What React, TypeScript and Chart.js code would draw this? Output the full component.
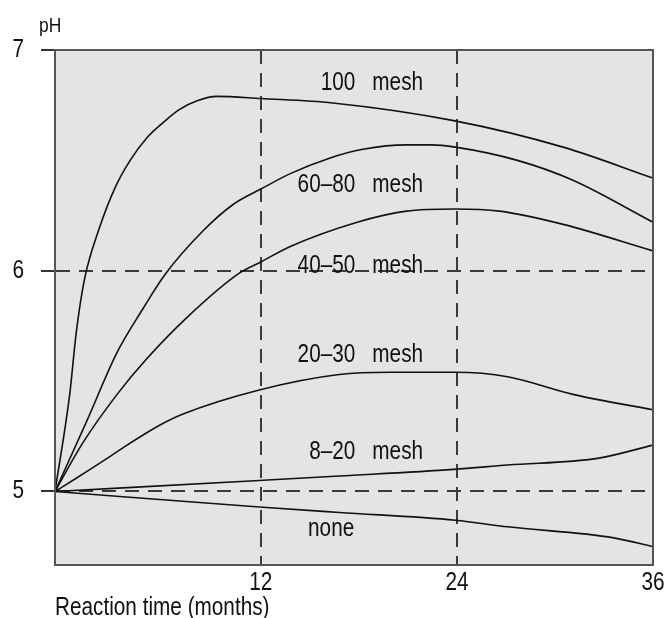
import React, { useEffect, useRef } from "react";
import { Chart, registerables } from "chart.js";

Chart.register(...registerables);

// Reaction time (months) and pH
const months100 = [-0.6, 0.3, 0.7, 1.2, 2.1, 3.1, 4.0, 5.0, 6.0, 7.0, 8.1, 9.3, 12, 16.4, 23.8, 30.5, 36];
const ph100 = [5.0, 5.44, 5.72, 5.96, 6.19, 6.38, 6.5, 6.6, 6.67, 6.73, 6.77, 6.79, 6.78, 6.76, 6.68, 6.56, 6.42];

const months60_80 = [-0.6, 1.35, 3.2, 4.8, 6.1, 8.45, 10.3, 12, 13.8, 16.2, 18.25, 20.9, 22.4, 23.9, 27.7, 31.1, 36];
const ph60_80 = [5.0, 5.32, 5.63, 5.83, 5.98, 6.18, 6.3, 6.37, 6.44, 6.51, 6.55, 6.57, 6.57, 6.56, 6.5, 6.41, 6.22];

const months40_50 = [-0.6, 1.1, 3.2, 5.0, 7.5, 10.7, 12, 13.8, 17.9, 20.9, 23.9, 26.6, 30.5, 36];
const ph40_50 = [5.0, 5.22, 5.44, 5.6, 5.79, 5.99, 6.04, 6.11, 6.22, 6.27, 6.28, 6.27, 6.21, 6.09];

const months20_30 = [-0.6, 0.7, 2.8, 3.6, 5.8, 7.2, 11.9, 16.8, 19.9, 23.9, 27.1, 31.1, 36];
const ph20_30 = [5.0, 5.06, 5.16, 5.2, 5.3, 5.35, 5.46, 5.53, 5.54, 5.54, 5.52, 5.44, 5.37];

const months8_20 = [-0.6, 11.9, 16.8, 23.8, 27.1, 32.6, 36];
const ph8_20 = [5.0, 5.05, 5.07, 5.1, 5.12, 5.15, 5.21];

const monthsNone = [-0.6, 11.9, 16.8, 23.9, 27.1, 33.6, 36];
const phNone = [5.0, 4.93, 4.905, 4.87, 4.84, 4.79, 4.75];

const seriesMonths = [months100, months60_80, months40_50, months20_30, months8_20, monthsNone];
const seriesValues = [ph100, ph60_80, ph40_50, ph20_30, ph8_20, phNone];

const xTicks = [12, 24, 36];
const yTicks = [5, 6, 7];

// Curve labels
const meshLabels = ["100", "60\u201380", "40\u201350", "20\u201330", "8\u201320"];
const meshLabelPH = [6.85, 6.39, 6.02, 5.62, 5.18];
const meshLabelMonth = 18.3;
const noneLabel = "none";
const noneLabelPH = 4.83;
const noneLabelMonth = 16.3;

const xTitle = "Reaction time (months)";
const yTitle = "pH";

const FONT = '"Liberation Sans", Arial, sans-serif';
const NARROW = 0.83;
const TEXT = "#111";
const GRID = "#3a3a3a";

function narrowText(ctx: CanvasRenderingContext2D, text: string, x: number, y: number, align: CanvasTextAlign, size: number, baseline: CanvasTextBaseline) {
  ctx.save();
  ctx.translate(x, y);
  ctx.scale(NARROW, 1);
  ctx.font = `${size}px ${FONT}`;
  ctx.fillStyle = TEXT;
  ctx.textAlign = align;
  ctx.textBaseline = baseline;
  ctx.fillText(text, 0, 0);
  ctx.restore();
}

const annotPlugin = {
  id: "annot",
  beforeDraw(chart: any) {
    const { ctx, chartArea: a } = chart;
    ctx.save();
    ctx.fillStyle = "#e4e4e4";
    ctx.fillRect(a.left, a.top, a.right - a.left, a.bottom - a.top);
    ctx.restore();
  },
  afterDatasetsDraw(chart: any) {
    const { ctx } = chart;
    const xs = chart.scales.x;
    const ys = chart.scales.y;
    const px = xs.getPixelForValue(meshLabelMonth);
    meshLabels.forEach((t, i) => {
      const py = ys.getPixelForValue(meshLabelPH[i]);
      narrowText(ctx, t, px - 8.5, py, "right", 25, "middle");
      narrowText(ctx, "mesh", px + 8.5, py, "left", 25, "middle");
    });
    narrowText(ctx, noneLabel, xs.getPixelForValue(noneLabelMonth), ys.getPixelForValue(noneLabelPH), "center", 25, "middle");
  },
  afterDraw(chart: any) {
    const { ctx, chartArea: a } = chart;
    const xs = chart.scales.x;
    const ys = chart.scales.y;
    ctx.save();
    ctx.strokeStyle = "#555";
    ctx.lineWidth = 2;
    ctx.strokeRect(a.left, a.top, a.right - a.left, a.bottom - a.top);
    ctx.restore();
    yTicks.forEach((v) => {
      narrowText(ctx, String(v), a.left - 31, ys.getPixelForValue(v), "right", 25, "middle");
    });
    xTicks.forEach((v) => {
      narrowText(ctx, String(v), xs.getPixelForValue(v), a.bottom + 25, "center", 25, "alphabetic");
    });
    narrowText(ctx, xTitle, a.left, a.bottom + 50, "left", 25, "alphabetic");
    narrowText(ctx, yTitle, a.left - 16, a.top - 18, "left", 21, "alphabetic");
  },
};

export default function App() {
  const ref = useRef<HTMLCanvasElement | null>(null);
  useEffect(() => {
    if (!ref.current) return;
    const chart = new Chart(ref.current, {
      type: "scatter",
      data: {
        datasets: seriesValues.map((vals, s) => ({
          data: seriesMonths[s].map((m, i) => ({ x: m, y: vals[i] })),
          showLine: true,
          borderColor: "#111",
          borderWidth: 1.6,
          pointRadius: 0,
          cubicInterpolationMode: "monotone" as const,
          fill: false,
        })),
      },
      options: {
        responsive: false,
        animation: false,
        layout: { padding: { top: 50, right: 14, left: 0, bottom: 0 } },
        plugins: { legend: { display: false }, tooltip: { enabled: false } },
        scales: {
          x: {
            type: "linear",
            min: -0.6,
            max: 36,
            afterBuildTicks: (s: any) => {
              s.ticks = xTicks.map((v) => ({ value: v }));
            },
            afterFit: (s: any) => {
              s.height = 53;
            },
            grid: {
              color: (c: any) => (c.tick && c.tick.value === 36 ? "transparent" : GRID),
              lineWidth: 2,
              drawTicks: false,
            },
            border: { display: true, color: "#555", width: 2, dash: [14, 9] },
            ticks: { display: false },
          },
          y: {
            type: "linear",
            min: 4.667,
            max: 7,
            afterBuildTicks: (s: any) => {
              s.ticks = yTicks.map((v) => ({ value: v }));
            },
            afterFit: (s: any) => {
              s.width = 55;
            },
            grid: {
              color: (c: any) => (c.tick && c.tick.value === 7 ? "transparent" : GRID),
              lineWidth: 2,
              drawTicks: true,
              tickLength: 14,
              tickWidth: 2,
              tickColor: "#333",
              tickBorderDash: [],
            },
            border: { display: true, color: "#555", width: 2, dash: [14, 9] },
            ticks: { display: false },
          },
        },
      },
      plugins: [annotPlugin],
    } as any);
    return () => chart.destroy();
  }, []);
  return (
    <div style={{ position: "absolute", left: 0, top: 0, width: 667, height: 618 }}>
      <canvas ref={ref} width={667} height={618} style={{ display: "block" }} />
    </div>
  );
}
